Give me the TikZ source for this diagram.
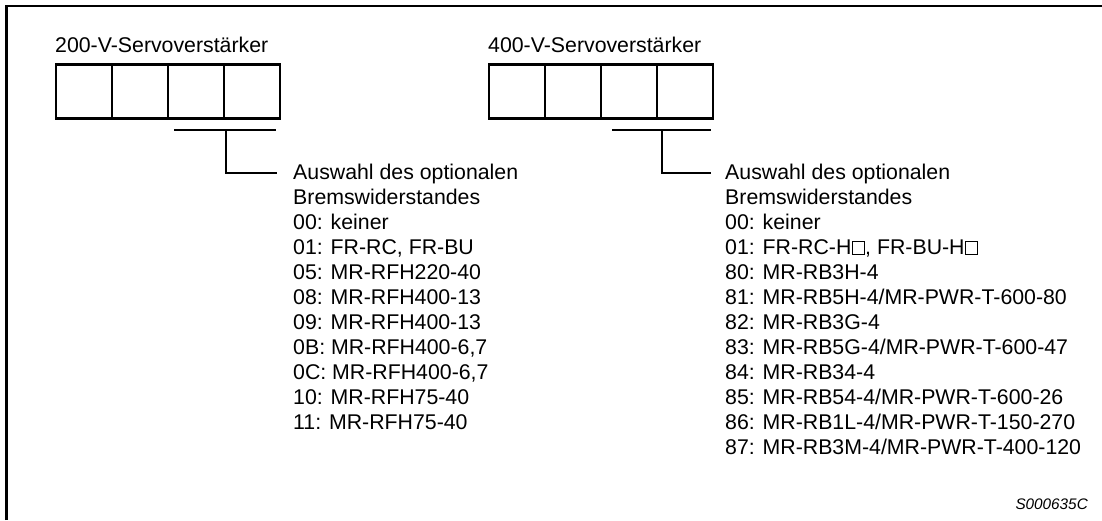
\documentclass[tikz,border=0pt]{standalone}
\usepackage{fontspec}
\setmainfont{Liberation Sans}
\usetikzlibrary{positioning}
\setlength{\fboxsep}{0pt}
\newcommand{\platz}{\kern.8pt{\setlength{\fboxrule}{1pt}\fbox{\rule{0pt}{12.3pt}\rule{11pt}{0pt}}}}

\begin{document}
\begin{tikzpicture}[x=1pt,y=-1pt,every node/.style={font=\fontsize{21.3}{25}\selectfont,inner sep=0pt,anchor=base west},cell/.style={draw,line width=2.2pt,minimum width=56pt,minimum height=54pt,outer sep=0pt,anchor=center},link/.style={line width=1.8pt}]
\useasboundingbox(0,0)rectangle(1102,520);\draw[line width=2.2pt](6.5,520)--(6.5,5.7)--(1102,5.7);
% 200 V
\node(title200)at(55,52){200-V-Servoverstärker};
\node[cell](s1)at(84,91.5){};\node[cell,right=0pt of s1](s2){};\node[cell,right=0pt of s2](s3){};\node[cell,right=0pt of s3](s4){};
\foreach\txt[count=\i]in{Auswahl des optionalen,Bremswiderstandes,00: keiner,{01: FR-RC, FR-BU},05: MR-RFH220-40,08: MR-RFH400-13,09: MR-RFH400-13,{0B: MR-RFH400-6,7},{0C: MR-RFH400-6,7},10: MR-RFH75-40,11: MR-RFH75-40}
  \node(a\i)at(293,{179+25*(\i-1)}){\txt};
\coordinate(sl)at(174,130);\coordinate(sr)at(276,130);\coordinate(sm)at(226,130);\coordinate(se)at(277,173);
\draw[link](sl)--(sr);\draw[link](sm)|-(se);
% 400 V
\node(title400)at(488,52){400-V-Servoverstärker};
\node[cell](t1)at(517,91.5){};\node[cell,right=0pt of t1](t2){};\node[cell,right=0pt of t2](t3){};\node[cell,right=0pt of t3](t4){};
\foreach\txt[count=\i]in{Auswahl des optionalen,Bremswiderstandes,00: keiner,{01: FR-RC-H\platz, FR-BU-H\platz},80: MR-RB3H-4,81: MR-RB5H-4/MR-PWR-T-600-80,82: MR-RB3G-4,83: MR-RB5G-4/MR-PWR-T-600-47,84: MR-RB34-4,85: MR-RB54-4/MR-PWR-T-600-26,86: MR-RB1L-4/MR-PWR-T-150-270,87: MR-RB3M-4/MR-PWR-T-400-120}
  \node(b\i)at(725,{179+25*(\i-1)}){\txt};
\coordinate(tl)at(612,130);\coordinate(tr)at(711,130);\coordinate(tm)at(662,130);\coordinate(te)at(711,173);
\draw[link](tl)--(tr);\draw[link](tm)|-(te);
\node[anchor=base east,font=\fontsize{15.3}{18}\selectfont\itshape](code)at(1088,509.5){S000635C};
\end{tikzpicture}
\end{document}
